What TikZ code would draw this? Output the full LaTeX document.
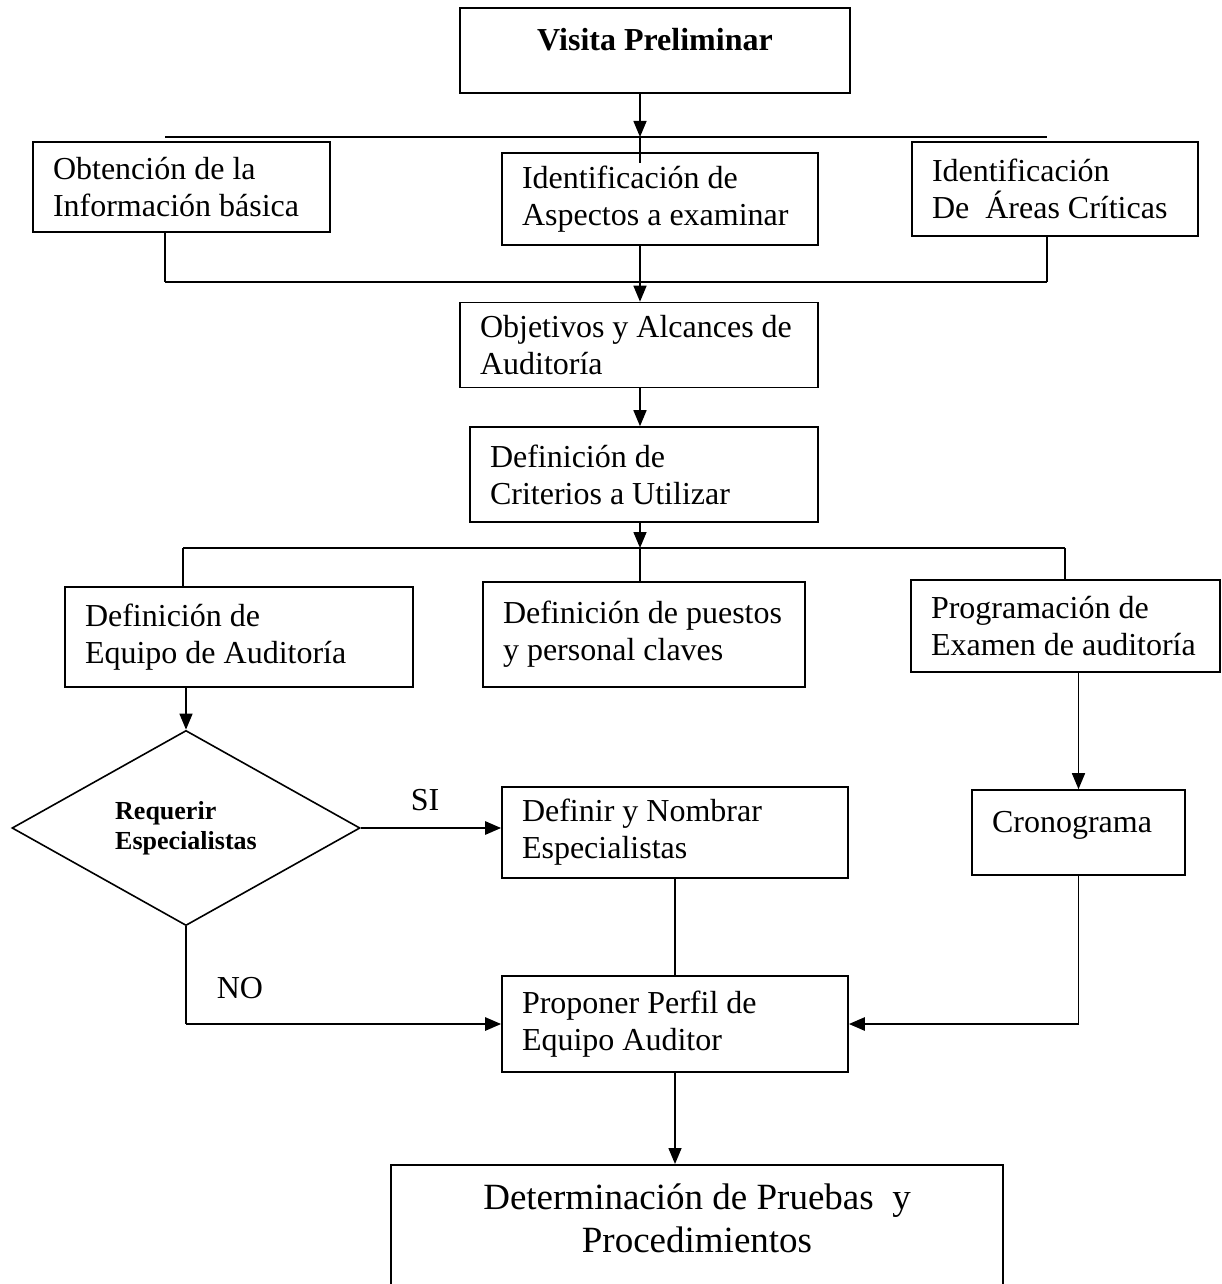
\documentclass[tikz,border=0pt]{standalone}
\usepackage{fontspec}
\setmainfont{Liberation Serif}
\usetikzlibrary{shapes.geometric, arrows.meta}

\begin{document}
\begin{tikzpicture}[x = 1pt, y = -1pt,
 box/.style = {draw, line width = 1.6pt, inner xsep = 20pt, inner ysep = 0pt, align = flush left,
  font = \fontsize{32}{37}\selectfont},
 vline/.style = {line width = 1.5pt},
 hline/.style = {line width = 2.5pt},
 arr/.style = {-{Triangle[length = 16pt, width = 13pt]}}]
\clip (0, 0) rectangle (1222, 1284);

\node[box, align = flush center, text width = 350pt, minimum height = 85pt, text height = 20pt, text depth = 20pt,
 font = \bfseries\fontsize{32}{37}\selectfont] (visita) at (655, 50.5) {Visita Preliminar};

\node[box, text width = 257pt, minimum height = 90pt] (obtencion) at (181.5, 187) {Obtención de la\\Información básica};
\node[box, text width = 276pt, minimum height = 92pt] (aspectos) at (660, 199) {Identificación de\\Aspectos a examinar};
\node[box, text width = 246pt, minimum height = 94pt] (areas) at (1055, 189) {Identificación\\De~ Áreas Críticas};

\node[box, text width = 318pt, minimum height = 85pt] (objetivos) at (639, 345) {Objetivos y Alcances de\\Auditoría};
\node[box, text width = 308pt, minimum height = 95pt] (criterios) at (644, 474.5) {Definición de\\Criterios a Utilizar};

\node[box, text width = 308pt, minimum height = 100pt] (equipo) at (239, 637) {Definición de\\Equipo de Auditoría};
\node[box, text width = 282pt, minimum height = 105pt] (puestos) at (644, 634.5) {Definición de puestos\\y personal claves};
\node[box, text width = 269pt, minimum height = 92pt] (programacion) at (1065.5, 626) {Programación de\\Examen de auditoría};

\node[draw, diamond, line width = 1.6pt, minimum width = 348pt, minimum height = 190pt, inner sep = 0pt, align = left,
 font = \bfseries\fontsize{26}{30}\selectfont] (req) at (186, 828) {Requerir\\Especialistas};
\node[box, text width = 306pt, minimum height = 91pt] (definir) at (675, 832.5) {Definir y Nombrar\\Especialistas};
\node[box, text width = 173pt, minimum height = 85pt, text height = 20pt, text depth = 20pt] (crono) at (1078.5, 832.5) {Cronograma};
\node[box, text width = 306pt, minimum height = 96pt] (proponer) at (675, 1024) {Proponer Perfil de\\Equipo Auditor};

\node[box, anchor = north, align = flush center, text width = 572pt, text height = 45pt, text depth = 160pt,
 font = \fontsize{37}{43}\selectfont] (determ) at (697, 1164) {Determinación de Pruebas~ y\\Procedimientos};

\node[font = \fontsize{32}{37}\selectfont] (si) at (425, 800) {SI};
\node[font = \fontsize{32}{37}\selectfont] (no) at (240, 988) {NO};

% junctions
\coordinate (t1) at (640, 137);
\coordinate (t1l) at (165, 137);
\coordinate (t1r) at (1047, 137);
\coordinate (s1) at (640, 163);
\coordinate (m1) at (165, 282);
\coordinate (m2) at (640, 282);
\coordinate (m3) at (1047, 282);
\coordinate (b1) at (183, 548);
\coordinate (b2) at (640, 548);
\coordinate (b3) at (1065, 548);

\draw[vline, arr] (visita.south -| t1) -- (t1);
\draw[hline] (t1l) -- (t1r);
\draw[vline] (t1) -- (s1);

\draw[vline] (obtencion.south -| m1) -- (m1);
\draw[vline] (areas.south -| m3) -- (m3);
\draw[hline] (m1) -- (m3);
\draw[vline] (aspectos.south -| m2) -- (m2);
\draw[vline, arr] (m2) -- (objetivos.north -| m2);
\draw[vline, arr] (objetivos.south -| m2) -- (criterios.north -| m2);

\draw[vline, arr] (criterios.south -| b2) -- (b2);
\draw[hline] (b1) -- (b3);
\draw[vline] (b1) -- (equipo.north -| b1);
\draw[vline] (b2) -- (puestos.north -| b2);
\draw[vline] (b3) -- (programacion.north -| b3);

\draw[vline, arr] (equipo.south -| req.north) -- (req.north);
\draw[hline, arr] (req.east) -- (req.east -| definir.west);
\draw[vline] (definir.south) -- (proponer.north);
\draw[vline] (req.south) -- (req.south |- proponer.west);
\draw[hline, arr] (req.south |- proponer.west) -- (proponer.west);

\draw[vline, arr] (programacion.south -| crono.north) -- (crono.north);
\draw[vline] (crono.south) -- (crono.south |- proponer.east);
\draw[hline, arr] (crono.south |- proponer.east) -- (proponer.east);

\draw[vline, arr] (proponer.south) -- (proponer.south |- determ.north);
\end{tikzpicture}
\end{document}
